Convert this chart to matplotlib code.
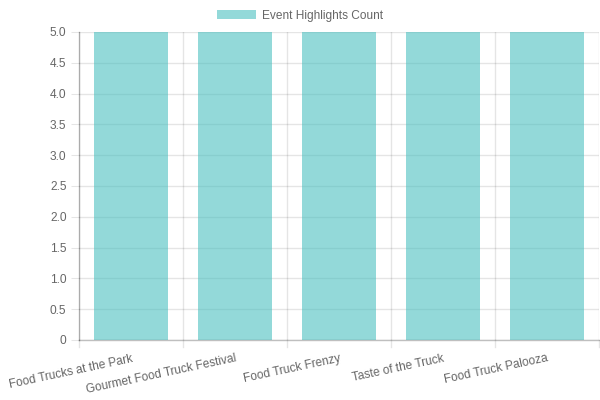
import matplotlib
matplotlib.use("Agg")
import matplotlib.pyplot as plt
import numpy as np

categories = ["Food Trucks at the Park", "Gourmet Food Truck Festival",
              "Food Truck Frenzy", "Taste of the Truck", "Food Truck Palooza"]
values = [5, 5, 5, 5, 5]
series_name = "Event Highlights Count"
y_ticks = [0, 0.5, 1.0, 1.5, 2.0, 2.5, 3.0, 3.5, 4.0, 4.5, 5.0]
y_tick_labels = ["0", "0.5", "1.0", "1.5", "2.0", "2.5", "3.0", "3.5", "4.0", "4.5", "5.0"]

plt.rcParams['font.family'] = ['Liberation Sans', 'DejaVu Sans']
FS = 8.6
grid_c = (0, 0, 0, 0.1)

fig = plt.figure(figsize=(6, 4), dpi=100)
ax = fig.add_axes([79/600, 60/400, 520/600, 308/400])

x = np.arange(len(categories))
fill = (75/255, 192/255, 192/255, 0.6)
bars = ax.bar(x, values, width=0.72, color=fill, edgecolor='none', label=series_name, zorder=2)

ax.set_xlim(-0.5, len(categories) - 0.5)
ax.set_ylim(0, 5.0)
ax.set_yticks(y_ticks)
ax.set_yticklabels(y_tick_labels)
ax.set_xticks(x)
ax.set_xticklabels(categories, rotation=12, ha='right', rotation_mode='anchor')

ax.grid(False)
for yv in y_ticks:
    ax.axhline(yv, color=grid_c, lw=1, zorder=1)
for xb in np.arange(-0.5, len(categories), 1.0):
    ax.axvline(xb, color=grid_c, lw=1, zorder=1)
    ax.plot([xb, xb], [0, -0.11], color=grid_c, lw=1, clip_on=False, zorder=1)

for s in ['top', 'right']:
    ax.spines[s].set_visible(False)
for s in ['left', 'bottom']:
    ax.spines[s].set_color((0, 0, 0, 0.25))
    ax.spines[s].set_linewidth(1)

ax.tick_params(axis='y', which='major', length=6, color=grid_c, labelsize=FS, labelcolor='#666666', pad=3)
ax.tick_params(axis='x', which='major', length=0, labelsize=FS, labelcolor='#666666', pad=9)

fig.legend(handles=[bars], labels=[series_name], loc='upper center',
           bbox_to_anchor=(0.5, 1.0), frameon=False, fontsize=FS,
           handlelength=3.3, handleheight=0.9, labelcolor='#666666',
           borderaxespad=0.4, handletextpad=0.5)

fig.savefig("out.png", dpi=100)
